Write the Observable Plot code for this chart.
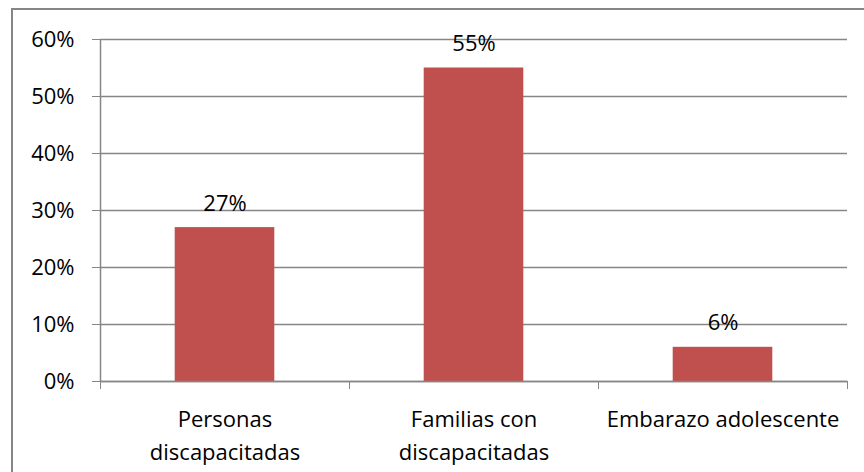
<!DOCTYPE html>
<html>
<head>
<meta charset="utf-8">
<script src="https://cdn.jsdelivr.net/npm/d3@7"></script>
<script src="https://cdn.jsdelivr.net/npm/@observablehq/plot@0.6"></script>
<style>
  html, body { margin: 0; padding: 0; background: #fff; }
  #wrap { position: relative; width: 864px; height: 472px; overflow: hidden; }
  #frame { position: absolute; left: 11px; top: 8px; width: 900px; height: 500px; border-left: 2px solid #868686; border-top: 2px solid #868686; pointer-events: none; }
  #chart { position: absolute; left: 0; top: 0; }
</style>
</head>
<body>
<div id="wrap"><div id="chart"></div><div id="frame"></div></div>
<script>
const categories = ["Personas\ndiscapacitadas", "Familias con\ndiscapacitadas", "Embarazo adolescente"];
const values = [0.27, 0.55, 0.06];
const yTicks = [0, 0.1, 0.2, 0.3, 0.4, 0.5, 0.6];

const data = categories.map((c, i) => ({cat: c, i, v: values[i]}));
const font = "'Open Sans', sans-serif";

const chart = Plot.plot({
  width: 864,
  height: 472,
  marginLeft: 100,
  marginRight: 17,
  marginTop: 39,
  marginBottom: 91,
  style: {fontFamily: font, fontSize: "22px", color: "#000", background: "transparent"},
  x: {domain: [0, categories.length], axis: null},
  y: {domain: [0, 0.6], axis: null},
  marks: [
    Plot.gridY(yTicks, {stroke: "#868686", strokeOpacity: 1, strokeWidth: 1.3}),
    Plot.axisY({ticks: yTicks, label: null, tickFormat: d3.format(".0%"), tickSize: 8, tickPadding: 18, stroke: "#868686", strokeOpacity: 1, fontSize: 22, fill: "#000"}),
    Plot.ruleX([0], {stroke: "#868686", strokeWidth: 1.5}),
    Plot.axisX({ticks: d3.range(categories.length + 1), label: null, tickFormat: () => "", tickSize: 8, stroke: "#868686", strokeOpacity: 1}),
    Plot.axisX({ticks: data.map(d => d.i + 0.5), label: null, tickFormat: t => categories[Math.floor(t)], tickSize: 0, tickPadding: 22, fontSize: 22, fill: "#000", lineHeight: 1.5}),
    Plot.rectY(data, {x1: d => d.i + 0.3, x2: d => d.i + 0.7, y: "v", fill: "#C0504D"}),
    Plot.ruleY([0], {stroke: "#868686", strokeWidth: 1.5}),
    Plot.text(data, {x: d => d.i + 0.5, y: "v", text: d => d3.format(".0%")(d.v), dy: -24, fontSize: 22, fill: "#000"})
  ]
});
document.getElementById("chart").appendChild(chart);
</script>
</body>
</html>
